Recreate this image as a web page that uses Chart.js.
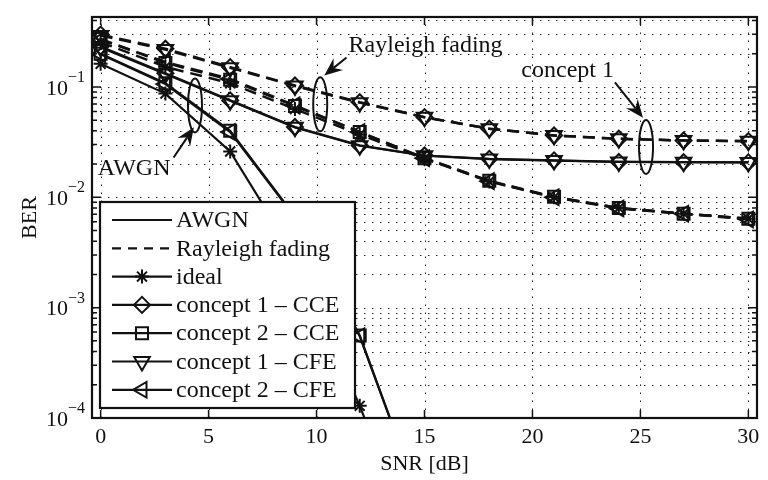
<!DOCTYPE html>
<html>
<head>
<meta charset="utf-8">
<script src="https://cdn.jsdelivr.net/npm/chart.js@4/dist/chart.umd.min.js"></script>
<style>
  html, body { margin: 0; padding: 0; background: #fff; }
  #wrap { width: 768px; height: 480px; }
</style>
</head>
<body>
<div id="wrap"><canvas id="ber" width="768" height="480"></canvas></div>
<script>
// SNR grid of the simulation [dB]
const snr = [0, 3, 6, 9, 12, 15, 18, 21, 24, 27, 30];
const xTicks = [0, 5, 10, 15, 20, 25, 30];
const yDecades = [-4, -3, -2, -1];

// AWGN channel (solid lines)
const awgnIdeal = [0.162, 0.087, 0.026, 0.0029, 1.29e-4, 4e-6];
const awgnC1CCE = [0.232, 0.133, 0.0755, 0.0433, 0.0295, 0.0239, 0.0223, 0.0216, 0.0209, 0.0208, 0.0207];
const awgnC2CCE = [0.2, 0.108, 0.040, 0.0067, 5.6e-4, 1.4e-5];
const awgnC1CFE = [0.228, 0.131, 0.0748, 0.0430, 0.0293, 0.0238, 0.0222, 0.0215, 0.0209, 0.0208, 0.0207];
const awgnC2CFE = [0.198, 0.106, 0.039, 0.0066, 5.5e-4, 1.4e-5];

// Rayleigh fading channel (dashed lines)
const rayIdeal = [0.255, 0.152, 0.108, 0.063, 0.037, 0.0224, 0.0139, 0.0100, 0.0080, 0.0071, 0.0064];
const rayC1CCE = [0.298, 0.222, 0.151, 0.103, 0.0727, 0.0532, 0.0418, 0.0363, 0.0339, 0.0327, 0.0323];
const rayC2CCE = [0.272, 0.165, 0.116, 0.067, 0.039, 0.0226, 0.0141, 0.0101, 0.0080, 0.0071, 0.0064];
const rayC1CFE = [0.292, 0.218, 0.149, 0.102, 0.0720, 0.0530, 0.0418, 0.0363, 0.0339, 0.0327, 0.0322];
const rayC2CFE = [0.268, 0.168, 0.118, 0.068, 0.039, 0.0226, 0.0140, 0.0100, 0.0079, 0.0071, 0.0063];

const legendLabels = ['AWGN', 'Rayleigh fading', 'ideal', 'concept 1 \u2013 CCE',
                      'concept 2 \u2013 CCE', 'concept 1 \u2013 CFE', 'concept 2 \u2013 CFE'];

// callouts: text position, ellipse centre, arrow tail -> tip (data units)
const callouts = [
  { text: 'AWGN',            tx: 1.55,  ty: 0.0182, ex: 4.37,  ey: 0.068,  ax0: 3.38,  ay0: 0.0229, ax1: 4.32,  ay1: 0.043 },
  { text: 'Rayleigh fading', tx: 15.05, ty: 0.238,  ex: 10.17, ey: 0.0695, ax0: 11.39, ay0: 0.185,  ax1: 10.36, ay1: 0.127 },
  { text: 'concept 1',       tx: 21.63, ty: 0.141,  ex: 25.26, ey: 0.0286, ax0: 23.82, ay0: 0.11,   ax1: 25.12, ay1: 0.0525 }
];

const SERIF = '"Liberation Serif", "Times New Roman", Times, serif';

// marker look of each receiver scheme
const markers = {
  ideal: { pointStyle: 'star',     pointRotation: 0,   pointRadius: 7 },
  c1cce: { pointStyle: 'rectRot',  pointRotation: 0,   pointRadius: 8 },
  c2cce: { pointStyle: 'rect',     pointRotation: 0,   pointRadius: 8.5 },
  c1cfe: { pointStyle: 'triangle', pointRotation: 180, pointRadius: 9 },
  c2cfe: { pointStyle: 'triangle', pointRotation: 270, pointRadius: 9 }
};

function series(values, marker, dashed) {
  return Object.assign({
    data: values.map((v, i) => ({ x: snr[i], y: v })),
    borderColor: '#111',
    borderWidth: dashed ? 2.5 : 2.2,
    borderDash: dashed ? [12, 7] : [],
    pointBorderColor: '#111',
    pointBackgroundColor: 'rgba(0,0,0,0)',
    pointBorderWidth: 2,
    tension: 0,
    fill: false
  }, markers[marker]);
}

const datasets = [
  series(awgnC1CCE, 'c1cce', false),
  series(awgnC1CFE, 'c1cfe', false),
  series(awgnC2CCE, 'c2cce', false),
  series(awgnC2CFE, 'c2cfe', false),
  series(awgnIdeal, 'ideal', false),
  series(rayC1CCE, 'c1cce', true),
  series(rayC1CFE, 'c1cfe', true),
  series(rayC2CCE, 'c2cce', true),
  series(rayC2CFE, 'c2cfe', true),
  series(rayIdeal, 'ideal', true)
];

function arrow(ctx, x0, y0, x1, y1) {
  const ang = Math.atan2(y1 - y0, x1 - x0);
  const L = 18, W = 7.5, notch = 12;
  ctx.beginPath();
  ctx.moveTo(x0, y0);
  ctx.lineTo(x1 - Math.cos(ang) * notch, y1 - Math.sin(ang) * notch);
  ctx.stroke();
  const bx = x1 - Math.cos(ang) * L, by = y1 - Math.sin(ang) * L;
  const nx = -Math.sin(ang), ny = Math.cos(ang);
  ctx.beginPath();
  ctx.moveTo(x1, y1);
  ctx.lineTo(bx + nx * W, by + ny * W);
  ctx.lineTo(x1 - Math.cos(ang) * notch, y1 - Math.sin(ang) * notch);
  ctx.lineTo(bx - nx * W, by - ny * W);
  ctx.closePath();
  ctx.fill();
}

const decor = {
  id: 'decor',
  beforeDatasetsDraw(chart) {
    const { ctx, chartArea: a, scales: { x, y } } = chart;
    ctx.save();
    ctx.strokeStyle = '#222';
    ctx.lineWidth = 1;
    ctx.setLineDash([1.5, 6.5]);
    y.ticks.forEach(t => {
      const py = Math.round(y.getPixelForValue(t.value)) + 0.5;
      ctx.beginPath(); ctx.moveTo(a.left, py); ctx.lineTo(a.right, py); ctx.stroke();
    });
    x.ticks.forEach(t => {
      const px = Math.round(x.getPixelForValue(t.value)) + 0.5;
      ctx.beginPath(); ctx.moveTo(px, a.bottom); ctx.lineTo(px, a.top); ctx.stroke();
    });
    ctx.restore();
  },
  afterDatasetsDraw(chart) {
    const { ctx, chartArea: a, scales: { x, y } } = chart;
    ctx.save();
    ctx.strokeStyle = '#111';
    ctx.fillStyle = '#111';
    ctx.lineWidth = 2;
    ctx.setLineDash([]);

    // callouts
    callouts.forEach(c => {
      ctx.beginPath();
      const cx = x.getPixelForValue(c.ex), cy = y.getPixelForValue(c.ey);
      ctx.ellipse(cx, cy, 7, 27, 0, 0, Math.PI * 2);
      ctx.stroke();
      arrow(ctx, x.getPixelForValue(c.ax0), y.getPixelForValue(c.ay0),
                 x.getPixelForValue(c.ax1), y.getPixelForValue(c.ay1));
      ctx.font = '24px ' + SERIF;
      ctx.textAlign = 'center';
      ctx.textBaseline = 'middle';
      ctx.fillText(c.text, x.getPixelForValue(c.tx), y.getPixelForValue(c.ty));
    });

    // legend box
    const lx = a.left + 8, ly = a.top + 185, lw = 255, lh = 206;
    ctx.fillStyle = '#fff';
    ctx.fillRect(lx, ly, lw, lh);
    ctx.lineWidth = 2.2;
    ctx.strokeRect(lx, ly, lw, lh);
    ctx.fillStyle = '#111';
    ctx.font = '24px ' + SERIF;
    ctx.textAlign = 'left';
    ctx.textBaseline = 'middle';
    const legendMarkers = [null, null, 'ideal', 'c1cce', 'c2cce', 'c1cfe', 'c2cfe'];
    legendLabels.forEach((label, i) => {
      const ry = ly + 18 + i * 28.3;
      ctx.lineWidth = 2.2;
      ctx.setLineDash(i === 1 ? [9, 7] : []);
      ctx.beginPath(); ctx.moveTo(lx + 12, ry); ctx.lineTo(lx + 72, ry); ctx.stroke();
      ctx.setLineDash([]);
      const m = legendMarkers[i];
      if (m) {
        const s = markers[m];
        ctx.save();
        ctx.fillStyle = 'rgba(0,0,0,0)';
        ctx.lineWidth = 2;
        Chart.helpers.drawPoint(ctx, { pointStyle: s.pointStyle, rotation: s.pointRotation,
          radius: s.pointRadius, borderWidth: 2 }, lx + 42, ry);
        ctx.restore();
      }
      ctx.fillText(label, lx + 76, ry + 1);
    });

    // axes box with inward ticks
    ctx.lineWidth = 2.2;
    ctx.strokeRect(a.left, a.top, a.right - a.left, a.bottom - a.top);
    ctx.lineWidth = 1.5;
    y.ticks.forEach(t => {
      const py = y.getPixelForValue(t.value);
      const len = t.major ? 9 : 5;
      ctx.beginPath();
      ctx.moveTo(a.left, py); ctx.lineTo(a.left + len, py);
      ctx.moveTo(a.right, py); ctx.lineTo(a.right - len, py);
      ctx.stroke();
    });
    x.ticks.forEach(t => {
      const px = x.getPixelForValue(t.value);
      ctx.beginPath();
      ctx.moveTo(px, a.bottom); ctx.lineTo(px, a.bottom - 8);
      ctx.moveTo(px, a.top); ctx.lineTo(px, a.top + 8);
      ctx.stroke();
    });

    // tick labels
    ctx.fillStyle = '#111';
    ctx.textBaseline = 'middle';
    ctx.textAlign = 'center';
    ctx.font = '22px ' + SERIF;
    xTicks.forEach(v => ctx.fillText(String(v), x.getPixelForValue(v), a.bottom + 19));
    yDecades.forEach(d => {
      const py = y.getPixelForValue(Math.pow(10, d));
      ctx.font = '22px ' + SERIF;
      ctx.textAlign = 'right';
      ctx.fillText('10', a.left - 24, py + 2);
      ctx.font = '16px ' + SERIF;
      ctx.textAlign = 'left';
      ctx.fillText('\u2212' + Math.abs(d), a.left - 24, py - 9);
    });

    // axis titles
    ctx.font = '22px ' + SERIF;
    ctx.textAlign = 'center';
    ctx.fillText('SNR [dB]', (a.left + a.right) / 2, a.bottom + 46);
    ctx.translate(30, (a.top + a.bottom) / 2);
    ctx.rotate(-Math.PI / 2);
    ctx.fillText('BER', 0, 0);
    ctx.restore();
  }
};

new Chart(document.getElementById('ber'), {
  type: 'line',
  data: { datasets },
  options: {
    responsive: false,
    animation: false,
    devicePixelRatio: 1,
    layout: { padding: { top: 17, right: 3, left: 0, bottom: 0 } },
    plugins: { legend: { display: false }, tooltip: { enabled: false } },
    scales: {
      x: {
        type: 'linear', min: -0.4, max: 30.4,
        grid: { display: false }, border: { display: false },
        ticks: { display: false },
        afterBuildTicks: s => { s.ticks = xTicks.map(v => ({ value: v })); },
        afterFit: s => { s.height = 62; }
      },
      y: {
        type: 'logarithmic', min: 1e-4, max: 0.43,
        grid: { display: false }, border: { display: false },
        ticks: { display: false },
        afterBuildTicks: s => {
          const t = [];
          yDecades.forEach(d => {
            for (let k = 1; k <= 9; k++) {
              const v = k * Math.pow(10, d);
              if (v <= 0.43) t.push({ value: v, major: k === 1 });
            }
          });
          s.ticks = t;
        },
        afterFit: s => { s.width = 92; }
      }
    }
  },
  plugins: [decor]
});
</script>
</body>
</html>
